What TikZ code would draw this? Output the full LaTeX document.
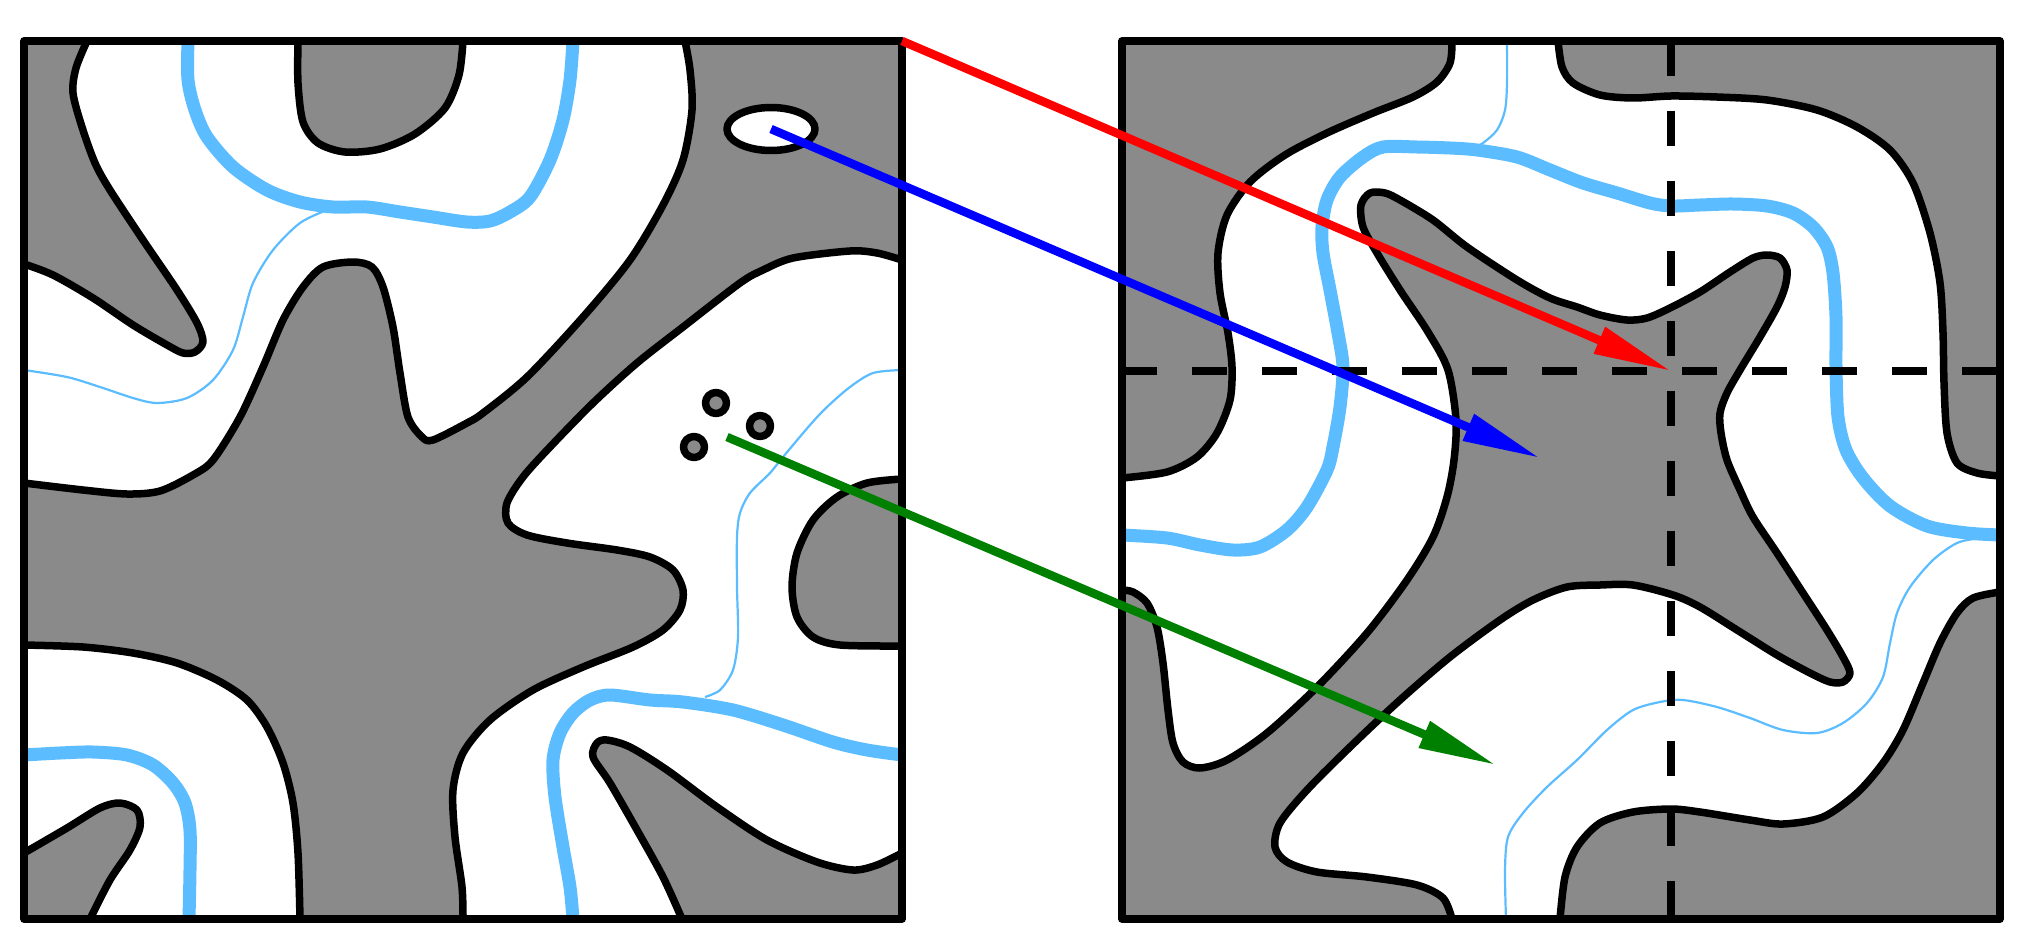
\documentclass[tikz,border=0pt]{standalone}
\usetikzlibrary{arrows.meta}
\definecolor{phase}{RGB}{138,138,138}
\definecolor{skel}{RGB}{91,189,255}
\definecolor{arrgreen}{RGB}{0,128,0}
\begin{document}
\begin{tikzpicture}[x=1pt,y=-1pt,line join=round,
  rim/.style={draw=black,line width=7.5pt,fill=phase},
  hole/.style={draw=black,line width=7.5pt,fill=white},
  thick skel/.style={skel,line width=13pt},
  thin skel/.style={skel,line width=2.2pt},
  cellframe/.style={line width=7.5pt},
  cut/.style={line width=7.5pt,dash pattern=on 35pt off 35pt},
  map/.style={line width=8.5pt,-{Triangle[length=78pt,width=27pt]}}]
  \useasboundingbox (0,0) rectangle (2025,947);
  % left cell
  \begin{scope}
    \clip (24,41) rectangle (902,919);
    \fill[white] (24,41) rectangle (902,919);
    \filldraw[rim] plot[smooth] coordinates {(87,41) (76,68) (73,93) (82,127) (95,163) (110,190) (143,240) (177,290) (197,323) (203,342) (195,352) (183,353) (167,345) (133,325) (93,298) (53,275) (24,264)} -- (24,41) -- cycle;
    \filldraw[rim] plot[smooth] coordinates {(298,41) (298,83) (303,122) (318,143) (345,152) (380,149) (415,134) (445,108) (459,75) (463,41)} -- cycle;
    \filldraw[rim] plot[smooth] coordinates {(24,483) (83,490) (127,494) (160,491) (193,475) (213,460) (240,417) (263,367) (283,320) (303,287) (323,267) (353,262) (372,267) (383,287) (393,327) (400,373) (408,417) (422,437) (433,440) (467,423) (483,413) (527,377) (583,317) (630,260) (663,205) (683,160) (692,110) (690,70) (685,41)}
      -- (902,41)
      -- plot[smooth] coordinates {(902,260) (877,253) (850,251) (793,258) (763,270) (740,283) (683,327) (637,363) (593,403) (550,447) (523,477) (507,503) (508,523) (527,535) (567,543) (617,550) (650,557) (673,570) (683,590) (680,610) (663,630) (633,647) (583,667) (533,690) (490,720) (463,753) (453,790) (455,837) (462,887) (463,919)}
      -- (24,919) -- cycle;
    \filldraw[hole] plot[smooth] coordinates {(24,645) (83,647) (133,653) (177,663) (217,680) (247,700) (267,727) (283,763) (293,803) (298,853) (300,919)} -- (24,919) -- cycle;
    \filldraw[rim] plot[smooth] coordinates {(24,853) (67,828) (100,808) (120,803) (137,810) (140,827) (130,850) (110,880) (90,919)} -- (24,919) -- cycle;
    \filldraw[rim] plot[smooth] coordinates {(902,479) (867,483) (837,497) (813,520) (797,553) (792,587) (797,617) (813,637) (840,645) (902,646)} -- cycle;
    \filldraw[rim] plot[smooth] coordinates {(682,919) (663,877) (637,830) (610,783) (593,757) (597,743) (607,740) (630,747) (667,770) (717,807) (767,840) (817,862) (853,870) (877,865) (902,853)} -- (902,919) -- cycle;
    \filldraw[hole] (771,129) ellipse [x radius=44, y radius=21.5];
    \foreach \x/\y in {716/403,760/426,694/447} \filldraw[rim] (\x,\y) circle [radius=10.5];
    \draw[thick skel] plot[smooth] coordinates {(188,41) (188,80) (195,110) (207,137) (233,167) (267,190) (300,202) (333,207) (367,207) (400,212) (433,217) (467,222) (490,221) (510,212) (530,197) (550,160) (563,120) (570,80) (573,41)};
    \draw[thin skel] plot[smooth] coordinates {(24,370) (67,377) (100,387) (133,398) (157,403) (187,398) (213,380) (233,350) (243,317) (253,283) (273,250) (300,223) (327,210)};
    \draw[thin skel] plot[smooth] coordinates {(902,370) (873,373) (850,387) (827,407) (810,425) (783,457) (770,473) (750,493) (740,513) (737,537) (737,587) (738,637) (733,670) (720,690) (705,697)};
    \draw[thick skel] plot[smooth] coordinates {(902,755) (867,750) (833,742) (783,725) (733,710) (683,702) (650,700) (610,695) (590,700) (573,713) (560,733) (553,760) (555,797) (563,847) (570,887) (573,919)};
    \draw[thick skel] plot[smooth] coordinates {(24,755) (60,753) (93,752) (127,755) (153,765) (173,783) (185,803) (190,830) (190,870) (189,919)};
  \end{scope}
  \draw[cellframe] (24,41) rectangle (902,919);
  % right cell
  \begin{scope}
    \clip (1122,41) rectangle (2000,919);
    \fill[white] (1122,41) rectangle (2000,919);
    \filldraw[rim] plot[smooth] coordinates {(1452,41) (1450,63) (1437,82) (1413,97) (1373,113) (1327,133) (1285,155) (1250,182) (1227,215) (1218,253) (1220,293) (1228,333) (1232,367) (1230,400) (1217,433) (1197,457) (1167,472) (1122,478)} -- (1122,41) -- cycle;
    \filldraw[rim] plot[smooth] coordinates {(1558,41) (1562,67) (1573,83) (1600,95) (1633,98) (1671,96) (1717,97) (1767,100) (1817,110) (1857,127) (1890,150) (1913,183) (1930,233) (1940,283) (1943,333) (1944,383) (1947,433) (1957,463) (1977,473) (2000,476)} -- (2000,41) -- cycle;
    \filldraw[rim] plot[smooth] coordinates {(1122,590) (1133,592) (1147,603) (1157,627) (1163,663) (1168,710) (1173,743) (1183,762) (1200,768) (1227,760) (1267,733) (1317,687) (1367,633) (1407,580) (1433,537) (1447,497) (1454,460) (1456,420) (1448,370) (1428,332) (1400,290) (1377,253) (1363,227) (1361,205) (1370,193) (1385,193) (1400,200) (1433,220) (1467,247) (1517,280) (1550,298) (1577,307) (1600,315) (1627,320) (1647,318) (1670,308) (1700,292) (1730,272) (1753,258) (1767,255) (1780,258) (1787,270) (1785,287) (1777,307) (1760,337) (1740,370) (1727,393) (1720,413) (1721,433) (1727,460) (1740,490) (1753,517) (1777,553) (1803,593) (1827,630) (1843,657) (1850,673) (1843,682) (1830,682) (1810,673) (1777,655) (1737,630) (1700,607) (1673,595) (1633,585) (1600,585) (1567,587) (1533,600) (1500,620) (1450,657) (1400,700) (1350,747) (1307,790) (1280,823) (1275,847) (1287,862) (1317,872) (1367,877) (1417,885) (1443,898) (1452,919)} -- (1122,919) -- cycle;
    \filldraw[rim] plot[smooth] coordinates {(2000,592) (1973,598) (1957,613) (1940,643) (1923,683) (1903,730) (1883,763) (1857,793) (1823,817) (1783,824) (1750,820) (1700,812) (1671,809) (1633,812) (1600,823) (1577,847) (1565,877) (1560,919)} -- (2000,919) -- cycle;
    \draw[thick skel] plot[smooth] coordinates {(1122,535) (1167,538) (1200,545) (1233,550) (1260,547) (1287,530) (1307,507) (1327,470) (1333,447) (1340,407) (1343,367) (1338,333) (1330,290) (1323,253) (1322,227) (1327,200) (1340,177) (1363,157) (1383,147) (1417,147) (1450,148) (1477,150) (1517,157) (1550,170) (1583,183) (1617,193) (1650,203) (1671,206) (1700,205) (1733,204) (1767,206) (1793,213) (1813,227) (1827,247) (1833,273) (1836,317) (1836,367) (1838,417) (1846,450) (1863,478) (1890,506) (1927,526) (1967,533) (2000,535)};
    \draw[thin skel] plot[smooth] coordinates {(1507,41) (1507,83) (1505,110) (1497,130) (1483,143) (1473,148)};
    \draw[thin skel] plot[smooth] coordinates {(1506,919) (1505,870) (1508,837) (1523,813) (1547,787) (1577,760) (1607,730) (1633,710) (1660,702) (1683,700) (1717,707) (1750,718) (1783,730) (1817,733) (1843,723) (1867,703) (1883,677) (1890,643) (1897,613) (1910,587) (1933,560) (1957,543) (1980,538) (2000,535)};
  \end{scope}
  \draw[cut] (1671,41) -- (1671,919);
  \draw[cut] (1122,371) -- (2000,371);
  \draw[cellframe] (1122,41) rectangle (2000,919);
  % maps
  \coordinate (corner) at (902,41);
  \coordinate (cross) at (1671,371);
  \coordinate (bubble) at (771,129);
  \coordinate (bubbleimg) at (1540,458);
  \coordinate (drops) at (727,437);
  \coordinate (dropsimg) at (1496,765);
  \draw[map,red] (corner) -- (cross);
  \draw[map,blue] (bubble) -- (bubbleimg);
  \draw[map,arrgreen] (drops) -- (dropsimg);
\end{tikzpicture}
\end{document}
